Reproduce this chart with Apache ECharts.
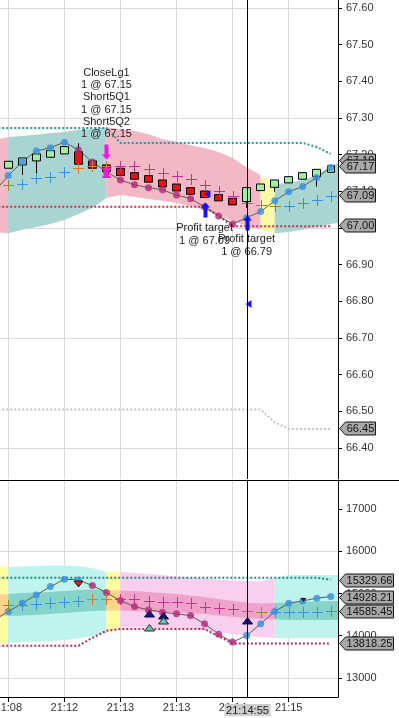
<!DOCTYPE html>
<html>
<head>
<meta charset="utf-8">
<script src="https://cdn.jsdelivr.net/npm/echarts@6.0.0/dist/echarts.min.js"></script>
<style>
html,body{margin:0;padding:0;background:#ffffff;overflow:hidden}
#chart{width:399px;height:718px}
</style>
</head>
<body>
<div id="chart"></div>
<script>
// ================= DATA =================
// bar numbers (one per bar, -1 and 24 are partly outside the view)
const barNo = [-1,0,1,2,3,4,5,6,7,8,9,10,11,12,13,14,15,16,17,18,19,20,21,22,23,24];
const xTickBars = [0,4,8,12,16,20];
const xTickLabels = ['21:08','21:12','21:13','21:13','21:14','21:15'];
const crossBar = 17.05;
const crossLabel = '21:14:55';

// ---- price panel ----
const priceTicks = [66.4,66.5,66.6,66.7,66.8,66.9,67.0,67.1,67.2,67.3,67.4,67.5,67.6];
const priceGrid = [66.4,66.7,67.0,67.3,67.6];
const priceLine = [67.099,67.143,67.181,67.210,67.219,67.234,67.213,67.180,67.153,67.131,67.118,67.110,67.104,67.090,67.080,67.058,67.033,67.011,67.028,67.045,67.074,67.099,67.113,67.138,67.165,null];
const priceTrend = ['u','u','u','u','u','u','d','d','d','d','d','d','d','d','d','d','d','d','u','u','u','u','u','u','u','-'];
const candleOpen  = [null,67.163,67.172,67.183,67.193,67.202,67.208,67.183,67.172,67.163,67.151,67.143,67.131,67.120,67.110,67.101,67.091,67.081,67.072,67.102,67.111,67.123,67.133,67.140,67.152,null];
const candleClose = [null,67.182,67.191,67.202,67.211,67.222,67.174,67.163,67.154,67.143,67.133,67.125,67.112,67.101,67.092,67.083,67.074,67.063,67.110,67.120,67.131,67.140,67.151,67.160,67.170,null];
const candleLow   = [null,67.163,67.145,67.131,67.193,67.202,67.174,67.163,67.154,67.143,67.133,67.125,67.112,67.101,67.092,67.083,67.074,67.063,67.055,67.102,67.099,67.123,67.133,67.113,67.152,null];
const candleHigh  = [null,67.182,67.191,67.202,67.211,67.222,67.231,67.183,67.172,67.163,67.151,67.143,67.131,67.120,67.110,67.101,67.091,67.081,67.110,67.120,67.131,67.140,67.151,67.160,67.170,null];
const pricePlus = [null,67.116,67.120,67.136,67.140,67.154,67.165,67.170,67.168,67.170,67.168,67.161,67.151,67.143,67.134,67.118,67.102,67.086,67.068,67.063,67.059,67.060,67.069,67.077,67.088,null];
const pricePlusState = ['-','o','b','b','b','b','r','r','r','m','m','m','m','m','m','m','m','m','o','o','o','b','b','b','b','-'];
const priceBandHi = [67.240,67.248,67.251,67.254,67.259,67.262,67.267,67.270,67.274,67.270,67.265,67.256,67.243,67.235,67.226,67.218,67.207,67.191,67.166,67.144,67.120,67.123,67.131,67.144,67.169,67.185];
const priceBandLo = [66.989,66.986,66.995,67.003,67.011,67.022,67.038,67.055,67.082,67.090,67.085,67.079,67.074,67.068,67.060,67.049,67.035,67.019,67.005,66.995,66.986,66.989,66.995,67.003,67.011,67.016];
const priceBandState = ['d','u','u','u','u','u','u','u','d','d','d','d','d','d','d','d','d','d','d','f','u','u','u','u','u','-'];
const priceUpperStop = [67.273,67.273,67.273,67.273,67.273,67.273,67.273,67.273,67.273,67.232,67.232,67.232,67.232,67.232,67.232,67.232,67.232,67.232,67.232,67.232,67.232,67.232,67.232,67.221,67.202,null];
const priceLowerStop = [67.058,67.058,67.058,67.058,67.058,67.058,67.058,67.058,67.058,67.058,67.058,67.058,67.058,67.058,67.058,67.058,67.033,67.005,67.005,67.005,67.005,67.005,67.005,67.005,67.005,null];
const priceFarLine = [66.505,66.505,66.505,66.505,66.505,66.505,66.505,66.505,66.505,66.505,66.505,66.505,66.505,66.505,66.505,66.505,66.505,66.505,66.505,66.505,66.47,66.452,66.452,66.452,66.452,null];
const priceTagVal = [67.186,67.168,67.090,67.0085,66.455];
const priceTagText = ['67.19','67.17','67.09','67.00','66.45'];
// trade markers
const tradeBar  = [7,7,14,17,14.17,17.12];
const tradeVal  = [67.206,67.150,67.048,67.015,67.093,66.793];
const tradeKind = ['sellArrow','hourglass','buyArrow','buyArrow','fillTri','fillTri'];
const noteBar  = [7,14,17];
const noteVal  = [67.440,67.016,66.986];
const noteText = ['CloseLg1\n1 @ 67.15\nShort5Q1\n1 @ 67.15\nShort5Q2\n1 @ 67.15','Profit target\n1 @ 67.09','Profit target\n1 @ 66.79'];

// ---- oscillator panel ----
const oscTicks = [13000,14000,15000,16000,17000];
const oscGrid = [13000,16000];
const oscLine = [14376,14572,14771,14967,15163,15338,15322,15187,15021,14832,14690,14612,14558,14518,14478,14281,14038,13850,14005,14281,14572,14771,14825,14889,14928,null];
const oscTrend = ['u','u','u','u','u','u','u','d','d','d','d','d','d','d','d','d','d','d','u','u','u','u','u','u','u','-'];
const oscPlus = [null,14730,14730,14747,14771,14809,14832,14872,14872,14872,14872,14825,14809,14794,14785,14676,14652,14636,14596,14572,14572,14572,14572,14572,14585,null];
const oscPlusState = ['-','o','b','b','b','b','b','r','r','m','m','m','m','m','m','m','m','m','o','o','b','b','b','b','b','-'];
const oscBandHi = [15651,15634,15639,15651,15663,15663,15651,15604,15516,15509,15485,15462,15438,15402,15379,15355,15331,15308,15296,15284,15367,15438,15438,15438,15438,15438];
const oscBandLo = [13828,13828,13852,13864,13876,13899,13935,13994,14065,14207,14207,14195,14183,14183,14172,14136,14089,14041,14006,13970,13947,13940,13940,13940,13940,13940];
const oscInnerHi = [14964,14988,15012,15024,15036,15059,15083,15095,15083,15071,15059,15036,15012,14988,14953,14917,14870,14822,14787,14763,14775,14787,14799,14811,14822,14822];
const oscInnerLo = [14444,14467,14479,14491,14515,14538,14562,14586,14598,14598,14586,14574,14562,14550,14538,14515,14479,14444,14420,14396,14385,14373,14373,14373,14373,14373];
const oscBandState = ['f','u','u','u','u','u','u','u','f','d','d','d','d','d','d','d','d','d','d','d','u','u','u','u','u','-'];
const oscUpperStop = [15370,15370,15370,15370,15370,15370,15370,15370,15370,15370,15370,15370,15370,15370,15370,15370,15370,15370,15370,15370,15370,15370,15370,15370,15330,null];
const oscLowerStop = [13761,13761,13761,13761,13761,13761,13761,13950,14120,14160,14160,14160,14160,14160,14160,14160,13990,13818,13818,13818,13818,13818,13818,13818,13818,null];
const oscTagVal = [15329.66,14928.21,14585.45,13818.25];
const oscTagText = ['15329.66','14928.21','14585.45','13818.25'];
const oscMarkBar  = [5,10,11,17,10,11,21];
const oscMarkVal  = [15230,14515,14475,14356,14176,14349,14850];
const oscMarkKind = ['redDn','navyUp','navyUp','navyUp','tealUp','tealUp','blackDn'];

// ================= STYLE / LAYOUT =================
const FONT = '"Liberation Sans", Arial, sans-serif';
const barMin = -0.592, barMax = 23.516;
const priceMin = 66.3155, priceMax = 67.6218;
const oscMin = 12550, oscMax = 17663;
const GRIDC = '#dadada';
const DOT = {u:'#3590e3', d:'#b4287c'};
const PLUS = {o:'#8d8d2a', b:'#3a8fe0', r:'#e07a2a', m:'#c2338c'};
const PBAND = {u:'#a8d4d2', d:'#f2b8c6', f:'#fcf9a6'};
const OBAND = {u:'#bff3ed', d:'#f9cff0', f:'#fdfc9e'};
const OINNER = {u:'#85d3c9', d:'#f1a2cc', f:'#fcd48c'};

function runsOf(state){
  const runs=[]; let s=0;
  for(let k=1;k<=state.length;k++){
    if(k===state.length || state[k]!==state[s]){
      if(state[s]!=='-') runs.push([s,k,state[s]]);
      s=k;
    }
  }
  return runs;
}
function bandSeries(xi,yi,hi,lo,state,cmap,z){
  const runs=runsOf(state);
  return {type:'custom',xAxisIndex:xi,yAxisIndex:yi,z:z,clip:true,silent:true,
    data:runs.map(r=>[barNo[r[0]],hi[r[0]]]),
    renderItem(params,api){
      const r=runs[params.dataIndex]; const pts=[];
      for(let k=r[0];k<=r[1];k++) pts.push(api.coord([barNo[k],hi[k]]));
      for(let k=r[1];k>=r[0];k--) pts.push(api.coord([barNo[k],lo[k]]));
      return {type:'polygon',shape:{points:pts},style:{fill:cmap[r[2]]}};
    }};
}
function lineSeries(xi,yi,vals,color,width,type,z){
  const data=[]; vals.forEach((v,k)=>{ if(v!=null) data.push([barNo[k],v]); });
  return {type:'line',xAxisIndex:xi,yAxisIndex:yi,z:z,data:data,showSymbol:false,silent:true,
    lineStyle:{color:color,width:width,type:type},emphasis:{disabled:true}};
}
function dotSeries(xi,yi,vals,trend,z){
  const data=[]; vals.forEach((v,k)=>{ if(v!=null) data.push({value:[barNo[k],v],itemStyle:{color:DOT[trend[k]]}}); });
  return {type:'scatter',xAxisIndex:xi,yAxisIndex:yi,z:z,symbolSize:7,silent:true,data:data};
}
function plusSeries(xi,yi,vals,states,z){
  const data=[]; vals.forEach((v,k)=>{ if(v!=null) data.push([barNo[k],v,k]); });
  return {type:'custom',xAxisIndex:xi,yAxisIndex:yi,z:z,clip:true,silent:true,data:data,
    renderItem(params,api){
      const p=api.coord([api.value(0),api.value(1)]);
      const c=PLUS[states[api.value(2)]];
      const x=Math.round(p[0])+0.5, y=Math.round(p[1])+0.5;
      return {type:'group',children:[
        {type:'line',shape:{x1:x-5.5,y1:y,x2:x+5.5,y2:y},style:{stroke:c,lineWidth:1}},
        {type:'line',shape:{x1:x,y1:y-5.5,x2:x,y2:y+5.5},style:{stroke:c,lineWidth:1}}]};
    }};
}
function shapeOf(kind,x,y){
  const P=(pts,fill,stroke)=>({type:'polygon',shape:{points:pts},style:{fill:fill,stroke:stroke||null,lineWidth:stroke?1:0}});
  switch(kind){
    case 'sellArrow': return [P([[x-2,y-7.5],[x+2,y-7.5],[x+2,y+2.5],[x+4.5,y+2.5],[x,y+7.5],[x-4.5,y+2.5],[x-2,y+2.5]],'#f21ad8')];
    case 'buyArrow': return [P([[x-2,y+7.5],[x+2,y+7.5],[x+2,y-2.5],[x+4.5,y-2.5],[x,y-7.5],[x-4.5,y-2.5],[x-2,y-2.5]],'#1414e6')];
    case 'hourglass': return [P([[x-5,y-5],[x+5,y-5],[x+1,y],[x+5,y+5],[x-5,y+5],[x-1,y]],'#f21ad8')];
    case 'fillTri': return [P([[x-3,y],[x+3,y-4],[x+3,y+4]],'#1a1ae8')];
    case 'redDn': return [P([[x-4.5,y-3],[x+4.5,y-3],[x,y+3]],'#cc2222','#3a1010')];
    case 'navyUp': return [P([[x,y-3.5],[x-5,y+3],[x+5,y+3]],'#15157a','#0a0a40')];
    case 'tealUp': return [P([[x,y-3.5],[x-5,y+3],[x+5,y+3]],'#5ec7b5','#2a2a2a')];
    case 'blackDn': return [P([[x-3,y-2],[x+3,y-2],[x,y+2]],'#222')];
  }
  return [];
}
function markerSeries(xi,yi,bars,vals,kinds,z){
  return {type:'custom',xAxisIndex:xi,yAxisIndex:yi,z:z,silent:true,
    data:bars.map((b,k)=>[b,vals[k],k]),
    renderItem(params,api){
      const p=api.coord([api.value(0),api.value(1)]);
      return {type:'group',children:shapeOf(kinds[api.value(2)],Math.round(p[0])+0.5,Math.round(p[1]))};
    }};
}
function tagSeries(xi,yi,vals,texts,w){
  return {type:'custom',xAxisIndex:xi,yAxisIndex:yi,z:20,silent:true,
    data:vals.map((v,k)=>[barMax,v,k]),
    renderItem(params,api){
      const p=api.coord([barMax,api.value(1)]);
      const x0=Math.round(p[0])+0.5, y=Math.round(p[1])+0.5, h=6.5;
      return {type:'group',children:[
        {type:'polygon',shape:{points:[[x0+1,y],[x0+7,y-h],[x0+w,y-h],[x0+w,y+h],[x0+7,y+h]]},
         style:{fill:'#a8a8a8',stroke:'#151515',lineWidth:1}},
        {type:'text',style:{text:texts[api.value(2)],x:x0+7+(w-7)/2,y:y+0.5,align:'center',verticalAlign:'middle',
         font:'11px '+FONT,fill:'#111'}}]};
    }};
}
function crossSeries(xi,yi,withLabel){
  return {type:'custom',xAxisIndex:xi,yAxisIndex:yi,z:15,silent:true,data:[[crossBar,0]],
    renderItem(params,api){
      const cs=params.coordSys;
      const x=Math.round(api.coord([crossBar,(yi<2?priceMin:oscMin)])[0])+0.5;
      const kids=[{type:'line',shape:{x1:x,y1:cs.y,x2:x,y2:cs.y+cs.height},style:{stroke:'#000',lineWidth:1}}];
      if(withLabel){
        const yb=cs.y+cs.height;
        kids.push({type:'rect',shape:{x:x-23,y:yb+7,width:46,height:12},style:{fill:'#cdcdcd'}});
        kids.push({type:'text',style:{text:crossLabel,x:x,y:yb+13.5,align:'center',verticalAlign:'middle',font:'11px '+FONT,fill:'#222'}});
      }
      return {type:'group',children:kids};
    }};
}
function noteSeries(){
  return {type:'custom',xAxisIndex:0,yAxisIndex:0,z:12,silent:true,
    data:noteBar.map((b,k)=>[b,noteVal[k],k]),
    renderItem(params,api){
      const p=api.coord([api.value(0),api.value(1)]);
      return {type:'text',style:{text:noteText[api.value(2)],x:p[0],y:p[1],align:'center',verticalAlign:'top',
        font:'11px '+FONT,fill:'#1e1e1e',lineHeight:12.3}};
    }};
}

const candleData=[];
barNo.forEach((b,k)=>{ if(candleOpen[k]!=null) candleData.push([b,candleOpen[k],candleClose[k],candleLow[k],candleHigh[k]]); });

const axisLabelStyle={color:'#333',fontSize:11,fontFamily:FONT};
const chart=echarts.init(document.getElementById('chart'),null,{renderer:'canvas',devicePixelRatio:1});
chart.setOption({
  animation:false,
  backgroundColor:'#ffffff',
  grid:[
    {left:0,top:0,width:338,height:479,containLabel:false,outerBoundsMode:'none'},
    {left:0,top:481,width:338,height:216,containLabel:false,outerBoundsMode:'none'}
  ],
  xAxis:[
    {type:'value',gridIndex:0,min:barMin,max:barMax,axisLine:{show:false},
     axisTick:{show:false,customValues:xTickBars},axisLabel:{show:false},
     splitLine:{show:true,lineStyle:{color:GRIDC,width:1}}},
    {type:'value',gridIndex:1,min:barMin,max:barMax,position:'bottom',
     axisLine:{show:true,onZero:false,lineStyle:{color:'#000',width:1}},
     axisTick:{show:true,length:5,inside:false,customValues:xTickBars,lineStyle:{color:'#000'}},
     axisLabel:Object.assign({show:true,margin:5,customValues:xTickBars,
       formatter:v=>xTickLabels[xTickBars.indexOf(Math.round(v))]},axisLabelStyle),
     splitLine:{show:true,lineStyle:{color:GRIDC,width:1}}}
  ],
  yAxis:[
    {type:'value',gridIndex:0,position:'right',min:priceMin,max:priceMax,
     axisLine:{show:true,onZero:false,lineStyle:{color:'#000',width:1}},
     axisTick:{show:true,length:4,customValues:priceTicks,lineStyle:{color:'#000'}},
     axisLabel:Object.assign({show:true,margin:8,customValues:priceTicks,formatter:v=>v.toFixed(2)},axisLabelStyle),
     splitLine:{show:false}},
    {type:'value',gridIndex:0,position:'left',min:priceMin,max:priceMax,
     axisLine:{show:false},axisTick:{show:false,customValues:priceGrid},axisLabel:{show:false},
     splitLine:{show:true,lineStyle:{color:GRIDC,width:1}}},
    {type:'value',gridIndex:1,position:'right',min:oscMin,max:oscMax,
     axisLine:{show:true,onZero:false,lineStyle:{color:'#000',width:1}},
     axisTick:{show:true,length:4,customValues:oscTicks,lineStyle:{color:'#000'}},
     axisLabel:Object.assign({show:true,margin:8,customValues:oscTicks,formatter:v=>String(Math.round(v))},axisLabelStyle),
     splitLine:{show:false}},
    {type:'value',gridIndex:1,position:'left',min:oscMin,max:oscMax,
     axisLine:{show:false},axisTick:{show:false,customValues:oscGrid},axisLabel:{show:false},
     splitLine:{show:true,lineStyle:{color:GRIDC,width:1}}}
  ],
  graphic:[{type:'line',shape:{x1:0,y1:480.5,x2:399,y2:480.5},style:{stroke:'#000',lineWidth:1},z:30}],
  series:[
    // price panel
    bandSeries(0,0,priceBandHi,priceBandLo,priceBandState,PBAND,1),
    lineSeries(0,0,priceFarLine,'#c4c4c4',2,[2,2],2),
    lineSeries(0,0,priceUpperStop,'#2f9797',2,[2,2],2),
    lineSeries(0,0,priceLowerStop,'#c9304f',2,[2,2],2),
    lineSeries(0,0,priceLine,'#5e5e44',1,'solid',3),
    {type:'candlestick',xAxisIndex:0,yAxisIndex:0,z:4,barWidth:8,silent:true,
     encode:{x:0,y:[1,2,3,4]},data:candleData,
     itemStyle:{color:'#9ef09e',color0:'#ee1010',borderColor:'#000',borderColor0:'#000',borderWidth:1}},
    dotSeries(0,0,priceLine,priceTrend,5),
    plusSeries(0,0,pricePlus,pricePlusState,6),
    markerSeries(0,0,tradeBar,tradeVal,tradeKind,7),
    noteSeries(),
    crossSeries(0,0,false),
    tagSeries(0,0,priceTagVal,priceTagText,37),
    // oscillator panel
    bandSeries(1,2,oscBandHi,oscBandLo,oscBandState,OBAND,1),
    bandSeries(1,2,oscInnerHi,oscInnerLo,oscBandState,OINNER,1.5),
    lineSeries(1,2,oscUpperStop,'#1f8a80',2,[2,2],2),
    lineSeries(1,2,oscLowerStop,'#c02456',2,[2,2],2),
    lineSeries(1,2,oscLine,'#5e5e44',1,'solid',3),
    dotSeries(1,2,oscLine,oscTrend,5),
    plusSeries(1,2,oscPlus,oscPlusState,6),
    markerSeries(1,2,oscMarkBar,oscMarkVal,oscMarkKind,7),
    crossSeries(1,2,true),
    tagSeries(1,2,oscTagVal,oscTagText,55)
  ]
});
</script>
</body>
</html>
